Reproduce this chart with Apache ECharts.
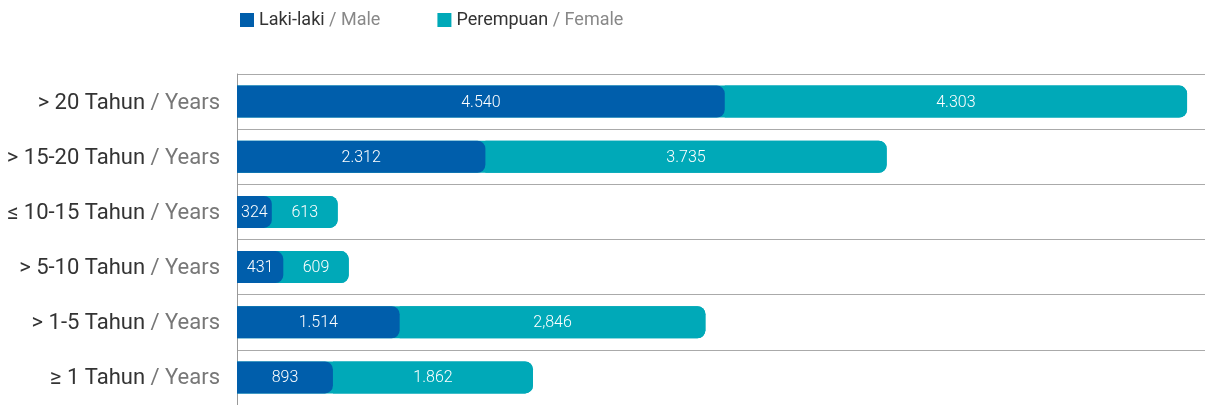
<!DOCTYPE html>
<html>
<head>
<meta charset="utf-8">
<script src="https://cdn.jsdelivr.net/npm/echarts@6/dist/echarts.min.js"></script>
<style>
  html, body { margin: 0; padding: 0; background: #fff; }
  #chart { width: 1210px; height: 405px; }
</style>
</head>
<body>
<div id="chart"></div>
<script>
// Length-of-service groups, listed top to bottom
const categories = ['> 20 Tahun / Years', '> 15-20 Tahun / Years', '≤ 10-15 Tahun / Years', '> 5-10 Tahun / Years', '> 1-5 Tahun / Years', '≥ 1 Tahun / Years'];
const maleValues = [4540, 2312, 324, 431, 1514, 893];
const femaleValues = [4303, 3735, 613, 609, 2846, 1862];
const maleLabels = ['4.540', '2.312', '324', '431', '1.514', '893'];
const femaleLabels = ['4.303', '3.735', '613', '609', '2,846', '1.862'];
const seriesNames = ['Laki-laki / Male', 'Perempuan / Female'];
const axisMax = 9010;

const MALE = '#005eab';
const FEMALE = '#00a9b8';
const totals = maleValues.map((v, i) => v + femaleValues[i]);

function splitRich(text) {
  const parts = text.split(' / ');
  return '{a|' + parts[0] + '}{b| / ' + parts[1] + '}';
}

const barLabel = {
  show: true,
  position: 'inside',
  color: '#fff',
  fontSize: 16,
  fontFamily: 'Roboto',
  fontWeight: 300,
  offset: [0, 1]
};

const chart = echarts.init(document.getElementById('chart'), null, { renderer: 'canvas' });
chart.setOption({
  animation: false,
  legend: {
    data: seriesNames,
    left: 235,
    top: 6,
    itemWidth: 14,
    itemHeight: 14,
    itemGap: 57,
    icon: 'rect',
    formatter: splitRich,
    textStyle: {
      fontFamily: 'Roboto',
      fontSize: 18,
      rich: {
        a: { color: '#333', fontSize: 18, fontFamily: 'Roboto' },
        b: { color: '#888', fontSize: 18, fontFamily: 'Roboto' }
      }
    }
  },
  grid: { left: 237, right: 5, top: 74, bottom: 0, containLabel: false },
  xAxis: {
    type: 'value',
    min: 0,
    max: axisMax,
    show: false
  },
  yAxis: {
    type: 'category',
    data: categories,
    inverse: true,
    axisLine: { show: true, lineStyle: { color: '#999', width: 1 } },
    axisTick: { show: false },
    splitLine: { show: true, interval: 0, lineStyle: { color: '#aaa', width: 1 } },
    axisLabel: {
      margin: 17,
      formatter: splitRich,
      rich: {
        a: { color: '#333', fontSize: 22, fontFamily: 'Roboto', padding: [3, 0, 0, 0] },
        b: { color: '#777', fontSize: 22, fontFamily: 'Roboto', padding: [3, 0, 0, 0] }
      }
    }
  },
  series: [
    {
      // teal backing bar spanning the whole row total
      name: 'total',
      type: 'bar',
      data: totals,
      barWidth: 32,
      barGap: '-100%',
      silent: true,
      itemStyle: { color: FEMALE, borderRadius: [0, 8, 8, 0] },
      z: 1
    },
    {
      name: seriesNames[0],
      type: 'bar',
      stack: 'sex',
      data: maleValues,
      barWidth: 32,
      itemStyle: { color: MALE, borderRadius: [0, 8, 8, 0] },
      label: Object.assign({}, barLabel, { formatter: p => maleLabels[p.dataIndex] }),
      z: 3
    },
    {
      name: seriesNames[1],
      type: 'bar',
      stack: 'sex',
      data: femaleValues,
      barWidth: 32,
      itemStyle: { color: FEMALE, borderRadius: [0, 8, 8, 0] },
      label: Object.assign({}, barLabel, { formatter: p => femaleLabels[p.dataIndex] }),
      z: 2
    }
  ]
});
</script>
</body>
</html>
